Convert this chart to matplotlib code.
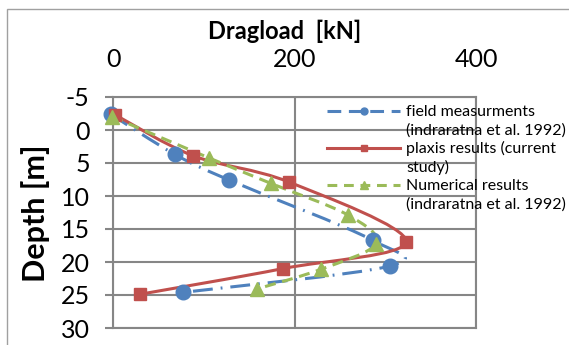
import numpy as np
import matplotlib
matplotlib.use("Agg")
import matplotlib.pyplot as plt
from matplotlib.path import Path
from matplotlib.patches import PathPatch, Rectangle
from matplotlib.lines import Line2D

plt.rcParams['font.family'] = ['Lato', 'DejaVu Sans']
plt.rcParams['axes.unicode_minus'] = False

# ---- data ----
field_load = [-3, 68, 128, 286, 305, 77]
field_depth = [-2.4, 3.7, 7.6, 16.7, 20.6, 24.6]

plaxis_load = [2, 88, 194, 323, 187, 29]
plaxis_depth = [-2.3, 3.9, 7.9, 16.9, 21.0, 24.9]

num_load = [-1, 105, 174, 259, 290, 229, 158]
num_depth = [-2.0, 4.2, 8.1, 12.9, 17.2, 21.1, 24.1]

labels = [("field measurments", "(indraratna et al. 1992)"),
          ("plaxis results (current", "study)"),
          ("Numerical results", "(indraratna et al. 1992)")]
xticks = [0, 200, 400]
yticks = [-5, 0, 5, 10, 15, 20, 25, 30]

blue = "#4F81BD"
red = "#C0504D"
green = "#9BBB59"
grid = "#868686"

W, H = 569, 345
fig = plt.figure(figsize=(W / 100, H / 100), dpi=100)
ax = fig.add_axes([113.3 / W, 1 - 328 / H, (476 - 113.3) / W, (328 - 97) / H])

# outer chart border
fig.patches.append(Rectangle((7 / W, -0.1), 1.2, 1 - 9 / H + 0.1, transform=fig.transFigure,
                             fill=False, edgecolor="#A0A0A0", lw=1.0))


def smooth_path(xs, ys):
    pts = np.column_stack([xs, ys]).astype(float)
    n = len(pts)
    verts = [pts[0]]
    codes = [Path.MOVETO]
    for i in range(n - 1):
        p0 = pts[i - 1] if i > 0 else pts[i]
        p1 = pts[i]
        p2 = pts[i + 1]
        p3 = pts[i + 2] if i + 2 < n else pts[i + 1]
        c1 = p1 + (p2 - p0) / 6.0
        c2 = p2 - (p3 - p1) / 6.0
        verts += [c1, c2, p2]
        codes += [Path.CURVE4] * 3
    return Path(verts, codes)


blue_ls = (0, (6.5, 2.6, 0.6, 2.6))
green_ls = (0, (3.6, 2.2))

ax.add_patch(PathPatch(smooth_path(field_load, field_depth), fill=False, edgecolor=blue,
                       lw=2.2, linestyle=blue_ls, capstyle='butt', zorder=3))
ax.add_patch(PathPatch(smooth_path(plaxis_load, plaxis_depth), fill=False, edgecolor=red,
                       lw=2.2, linestyle='-', zorder=4))
ax.add_patch(PathPatch(smooth_path(num_load, num_depth), fill=False, edgecolor=green,
                       lw=2.2, linestyle=green_ls, capstyle='butt', zorder=5))

ax.plot(field_load, field_depth, 'o', color=blue, ms=10.5, zorder=6, clip_on=False)
ax.plot(plaxis_load, plaxis_depth, 's', color=red, ms=8.5, zorder=7, clip_on=False)
ax.plot(num_load, num_depth, '^', color=green, ms=10, zorder=8, clip_on=False)

ax.set_xlim(0, 400)
ax.set_ylim(30, -5)
ax.xaxis.tick_top()
ax.set_xticks(xticks)
ax.set_yticks(yticks)
ax.tick_params(axis='x', length=0, pad=19, labelsize=18)
ax.tick_params(axis='y', length=6, width=1.5, color=grid, pad=11, labelsize=18)
ax.grid(True, color=grid, lw=1.5)
ax.set_axisbelow(True)
for s in ax.spines.values():
    s.set_color(grid)
    s.set_linewidth(1.5)
ax.set_facecolor('none')

fig.text(285 / W, 1 - 31 / H, "Dragload  [kN]", ha='center', va='center',
         fontsize=17, fontweight='bold')
fig.text(36 / W, 1 - 213 / H, "Depth [m]", ha='center', va='center', rotation=90,
         fontsize=22, fontweight='bold')

series_handles = [
    Line2D([], [], color=blue, lw=2.2, linestyle=(0, (4.5, 2.5)), marker='o', ms=5),
    Line2D([], [], color=red, lw=2.2, marker='s', ms=5),
    Line2D([], [], color=green, lw=2.2, linestyle=(0, (3.2, 2.2)), marker='^', ms=6),
]
blank = Line2D([], [], linestyle='none', marker=None)
leg_handles, leg_labels = [], []
for h, (l1, l2) in zip(series_handles, labels):
    leg_handles += [h, blank]
    leg_labels += [l1, l2]

leg = ax.legend(leg_handles, leg_labels, loc='upper left', bbox_to_anchor=(327 / W, 1 - 105 / H),
                bbox_transform=fig.transFigure, frameon=False, fontsize=11.5,
                handlelength=4.6, handletextpad=0.35, labelspacing=0.24,
                borderpad=0, borderaxespad=0)

fig.savefig("out.png", dpi=100)
